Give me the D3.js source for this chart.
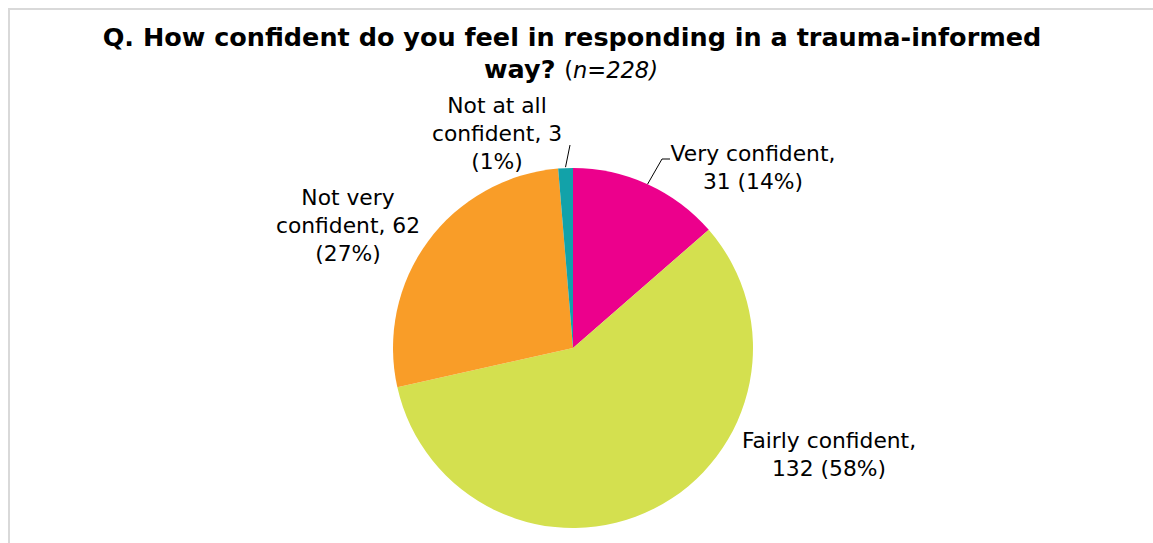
<!DOCTYPE html>
<html>
<head>
<meta charset="utf-8">
<script src="https://cdn.jsdelivr.net/npm/d3@7/dist/d3.min.js"></script>
<style>
  html, body { margin: 0; padding: 0; background: #fff; }
  svg { display: block; }
</style>
</head>
<body>
<svg id="chart" width="1153" height="543"></svg>
<script>
// Survey responses, in drawing order clockwise from 12 o'clock
const categories = ["Very confident", "Fairly confident", "Not very confident", "Not at all confident"];
const counts = [31, 132, 62, 3];
const percents = [14, 58, 27, 1];
const colors = ["#EC008C", "#D4E04F", "#F99D28", "#12A2A9"];

const titleMain = "Q. How confident do you feel in responding in a trauma-informed";
const titleLine2Bold = "way?";
const titleLine2Note = "n=228";

const W = 1153, H = 543;
const svg = d3.select("#chart");
const font = "'DejaVu Sans', Verdana, sans-serif";

// Chart frame
svg.append("rect")
  .attr("x", 9).attr("y", 9)
  .attr("width", W + 20).attr("height", H + 20)
  .attr("fill", "none").attr("stroke", "#d9d9d9").attr("stroke-width", 2);

// Title, line 1
svg.append("text")
  .attr("text-anchor", "middle")
  .attr("x", 572).attr("y", 46)
  .attr("font-family", font).attr("font-size", 25.5).attr("font-weight", "bold")
  .attr("fill", "#000")
  .text(titleMain);

// Title, line 2: bold end of question plus italic sample size
const line2 = svg.append("text")
  .attr("text-anchor", "middle")
  .attr("x", 571).attr("y", 78)
  .attr("font-family", font).attr("font-size", 25.5).attr("fill", "#000");
line2.append("tspan").attr("font-weight", "bold").text(titleLine2Bold + " ");
line2.append("tspan").attr("font-size", 22.5).text("(");
line2.append("tspan").attr("font-size", 22.5).attr("font-style", "italic").text(titleLine2Note + ")");

// Pie
const cx = 573, cy = 348, R = 180;
const data = categories.map((c, i) => ({ name: c, count: counts[i], pct: percents[i], color: colors[i] }));
const pie = d3.pie().sort(null).value(d => d.count).startAngle(0).endAngle(2 * Math.PI);
const arcs = pie(data);
const arc = d3.arc().innerRadius(0).outerRadius(R);

const g = svg.append("g").attr("transform", `translate(${cx},${cy})`);
g.selectAll("path.slice")
  .data(arcs)
  .join("path")
  .attr("class", "slice")
  .attr("d", arc)
  .attr("fill", d => d.data.color);

// Label layout: offset of each label block centre from the pie centre, and line breaks
const labelLayout = {
  "Very confident":       { dx: 180, dy: -181, lines: d => [d.name + ",", `${d.count} (${d.pct}%)`] },
  "Fairly confident":     { dx: 256, dy: 106,  lines: d => [d.name + ",", `${d.count} (${d.pct}%)`] },
  "Not very confident":   { dx: -225, dy: -123, lines: d => ["Not very", `confident, ${d.count}`, `(${d.pct}%)`] },
  "Not at all confident": { dx: -76, dy: -215, lines: d => ["Not at all", `confident, ${d.count}`, `(${d.pct}%)`] }
};
const lineH = 28;

arcs.forEach(a => {
  const L = labelLayout[a.data.name];
  const lines = L.lines(a.data);
  const t = g.append("text")
    .attr("text-anchor", "middle")
    .attr("font-family", font)
    .attr("font-size", 21.8)
    .attr("fill", "#000");
  const y0 = L.dy - (lines.length - 1) * lineH / 2 + 7.5;
  lines.forEach((s, i) => {
    t.append("tspan").attr("x", L.dx).attr("y", y0 + i * lineH).text(s);
  });
});

// Leader lines from the middle of each small slice's rim to its label
const mid = a => (a.startAngle + a.endAngle) / 2;
const polar = (ang, r) => [Math.sin(ang) * r, -Math.cos(ang) * r];
const vc = arcs[0], na = arcs[3];
{
  const p0 = polar(mid(vc), R);
  const p1 = [89, -189];
  const p2 = [97, -189];
  g.append("polyline")
    .attr("points", [p0, p1, p2].map(p => p.join(",")).join(" "))
    .attr("fill", "none").attr("stroke", "#000").attr("stroke-width", 1);
}
{
  const p0 = polar(mid(na), R + 1);
  const p1 = [-3, -203];
  g.append("line")
    .attr("x1", p0[0]).attr("y1", p0[1])
    .attr("x2", p1[0]).attr("y2", p1[1])
    .attr("stroke", "#000").attr("stroke-width", 1);
}
</script>
</body>
</html>
